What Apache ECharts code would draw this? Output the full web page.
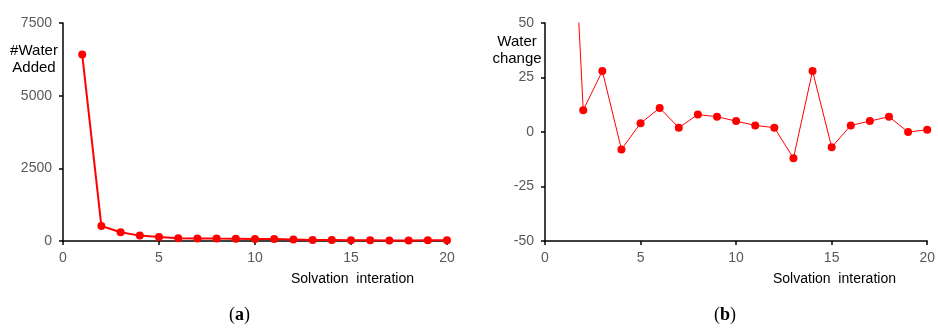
<!DOCTYPE html>
<html><head><meta charset="utf-8">
<script src="https://cdn.jsdelivr.net/npm/echarts@6/dist/echarts.min.js"></script>
<style>html,body{margin:0;padding:0;background:#fff}#c{width:938px;height:329px}</style>
</head><body><div id="c"></div>
<script>
const iterations = [1,2,3,4,5,6,7,8,9,10,11,12,13,14,15,16,17,18,19,20];
const waterAdded = [6420,515,300,185,140,95,88,82,80,70,65,50,32,32,30,30,20,20,30,22];
const waterChange = [186,10,28,-8,4,11,2,8,7,5,3,2,-12,28,-7,3,5,7,0,1];
const xTicks = [0,5,10,15,20];
const yTicksA = [0,2500,5000,7500];
const yTicksB = [-50,-25,0,25,50];

const chart = echarts.init(document.getElementById('c'), null, {renderer:'canvas'});
const FONT = '"Liberation Sans", Arial, sans-serif';
const lab = {color:'#595959', fontSize:14, fontFamily:FONT, formatter:v=>String(v)};
function xAxis(i){return {gridIndex:i,type:'value',min:xTicks[0],max:xTicks[xTicks.length-1],interval:5,
  axisLine:{onZero:false,lineStyle:{color:'#000',width:1.5}},axisTick:{length:4,lineStyle:{color:'#000',width:1.5}},
  axisLabel:Object.assign({margin:10},lab),splitLine:{show:false}};}
function yAxis(i,t){return {gridIndex:i,type:'value',min:t[0],max:t[t.length-1],interval:t[1]-t[0],
  axisLine:{show:true,onZero:false,lineStyle:{color:'#000',width:1.5}},axisTick:{show:true,length:4,lineStyle:{color:'#000',width:1.5}},
  axisLabel:Object.assign({margin:11},lab),splitLine:{show:false}};}
const rich = {p:{fontFamily:'"Liberation Serif", serif',fontSize:18,fill:'#000'},b:{fontFamily:'"Liberation Serif", serif',fontSize:18,fontWeight:'bold',fill:'#000'}};
chart.setOption({
  animation:false,
  grid:[{left:63,top:23,width:384,height:218},{left:545,top:23,width:384,height:218}],
  xAxis:[xAxis(0),xAxis(1)],
  yAxis:[yAxis(0,yTicksA),yAxis(1,yTicksB)],
  series:[
    {type:'line',xAxisIndex:0,yAxisIndex:0,data:iterations.map((x,i)=>[x,waterAdded[i]]),
     symbol:'circle',symbolSize:8,itemStyle:{color:'#ff0000'},lineStyle:{color:'#ff0000',width:2}},
    {type:'line',xAxisIndex:1,yAxisIndex:1,data:iterations.map((x,i)=>[x,waterChange[i]]),clip:true,
     symbol:'circle',symbolSize:8,itemStyle:{color:'#ff0000'},lineStyle:{color:'#ff0000',width:1}}
  ],
  graphic:[
    {type:'text',x:34,y:42,style:{text:'#Water\nAdded',fill:'#000',font:'15px '+FONT,align:'center',lineHeight:17}},
    {type:'text',x:517,y:33,style:{text:'Water\nchange',fill:'#000',font:'15px '+FONT,align:'center',lineHeight:17}},
    {type:'text',left:291,top:272,style:{text:'Solvation  interation',fill:'#000',font:'14px '+FONT}},
    {type:'text',left:773,top:272,style:{text:'Solvation  interation',fill:'#000',font:'14px '+FONT}},
    {type:'text',left:229,top:306,style:{text:'{p|(}{b|a}{p|)}',rich:rich}},
    {type:'text',left:714,top:306,style:{text:'{p|(}{b|b}{p|)}',rich:rich}}
  ]
});
</script></body></html>
